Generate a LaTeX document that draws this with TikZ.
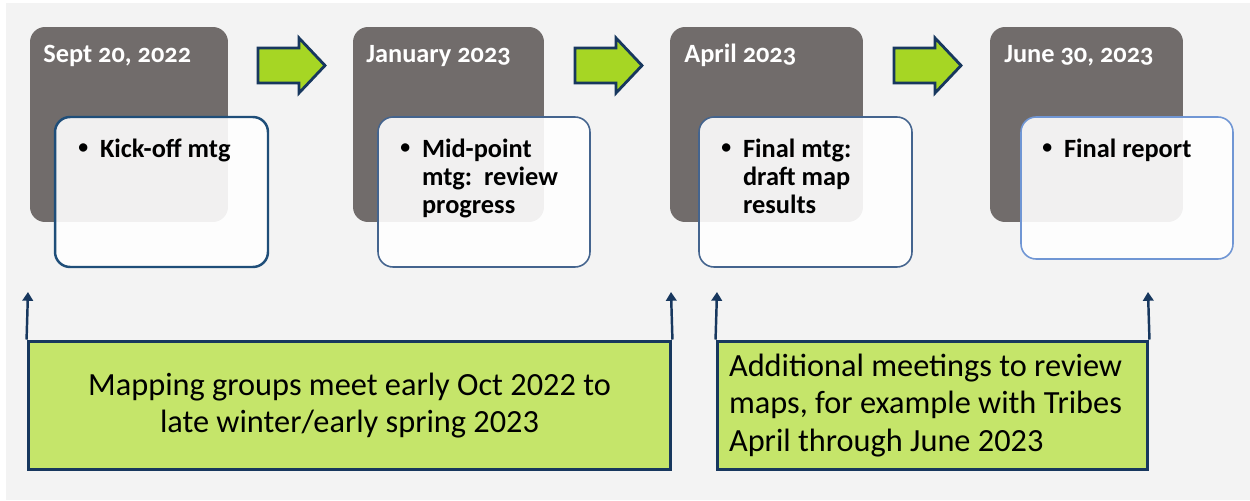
\documentclass[tikz,border=0pt]{standalone}
\usepackage{fontspec}
\setmainfont{Carlito}
\definecolor{bggray}{RGB}{243, 243, 243}
\definecolor{slate}{RGB}{113, 108, 107}
\definecolor{navy}{RGB}{23, 55, 94}
\definecolor{cardblue}{RGB}{31, 78, 121}
\definecolor{cardmid}{RGB}{68, 100, 142}
\definecolor{cardlight}{RGB}{112, 150, 212}
\definecolor{limegreen}{RGB}{166, 214, 36}
\definecolor{palegreen}{RGB}{197, 229, 106}
\usetikzlibrary{arrows.meta, positioning}
\newcommand{\smallbul}{\raisebox{0.12em}{\scalebox{0.75}{\textbullet}}\hspace{0.45em}}

\begin{document}
\begin{tikzpicture}[x=0.02cm, y=-0.02cm,
  datebox/.style={fill=slate, rounded corners=0.3cm, minimum height=3.9cm, inner sep=0pt},
  datetext/.style={text=white, font=\fontsize{15}{18}\selectfont\bfseries\addfontfeatures{Numbers=OldStyle}, anchor=base west, inner sep=0pt},
  card/.style={fill=white, fill opacity=0.9, rounded corners=0.3cm, minimum height=3cm, inner sep=0pt},
  itemtext/.style={font=\fontsize{15}{16}\selectfont\bfseries, anchor=base west, inner sep=0pt, align=left},
  fwdarrow/.style={draw=navy, line width=1.6pt, fill=limegreen, line join=miter},
  periodbox/.style={draw=navy, line width=1.7pt, fill=palegreen, minimum height=2.58cm, inner sep=0pt, font=\fontsize{18.4}{21.5}\selectfont},
  upline/.style={draw=navy, line width=1.4pt, -{Triangle[length=5pt, width=6pt]}}
]
  \useasboundingbox (0,0) rectangle (1250,500);
  % background
  \fill[white] (0,0) rectangle (1250,500);
  \fill[bggray] (6,3) rectangle (1250,500);

  % milestone boxes
  \node[datebox, minimum width=3.96cm] (d1) at (129,124.5) {};
  \node[datebox, minimum width=3.82cm] (d2) at (448.5,124.5) {};
  \node[datebox, minimum width=3.86cm] (d3) at (766.5,124.5) {};
  \node[datebox, minimum width=3.86cm] (d4) at (1086.5,124.5) {};

  \node[datetext] (t1) at (43,63) {Sept 20, 2022};
  \node[datetext] (t2) at (366,63) {January 2023};
  \node[datetext] (t3) at (684,63) {April 2023};
  \node[datetext] (t4) at (1004,63) {June 30, 2023};

  % activity cards
  \node[card, draw=cardblue, line width=1.4pt, draw opacity=1, minimum width=4.26cm] (c1) at (161.5,192) {};
  \node[card, draw=cardmid, line width=0.9pt, draw opacity=1, minimum width=4.24cm] (c2) at (484,192) {};
  \node[card, draw=cardmid, line width=0.9pt, draw opacity=1, minimum width=4.26cm] (c3) at (805.5,192) {};
  \node[card, draw=cardlight, line width=0.9pt, draw opacity=1, minimum width=4.24cm, minimum height=2.84cm] (c4) at (1127,188) {};

  \node[itemtext] (i1) at (78,157) {\smallbul\parbox[t]{3cm}{Kick-off mtg}};
  \node[itemtext] (i2) at (400,157) {\smallbul\parbox[t]{3cm}{Mid-point\\mtg:~~review\\progress}};
  \node[itemtext] (i3) at (721,157) {\smallbul\parbox[t]{3cm}{Final mtg:\\draft map\\results}};
  \node[itemtext] (i4) at (1042,157) {\smallbul\parbox[t]{3cm}{Final report}};

  % arrows between milestones
  \foreach \s in {258,575,894}
    \draw[fwdarrow] (\s,48) -- (\s+41,48) -- (\s+41,38) -- (\s+67,65.5) -- (\s+41,93) -- (\s+41,83) -- (\s,83) -- cycle;

  % meeting periods
  \node[periodbox, minimum width=12.86cm, align=center] (p1) at (349.5,405.5) {Mapping groups meet early Oct 2022 to\\late winter/early spring 2023};
  \node[periodbox, minimum width=8.62cm, text width=8.14cm, align=flush left] (p2) at (932.5,405.5) {Additional meetings to review\\maps, for example with Tribes\\April through June 2023};

  \coordinate (u1) at (28,292);
  \coordinate (u2) at (671,292);
  \coordinate (u3) at (717,292);
  \coordinate (u4) at (1148,292);
  \draw[upline] (p1.north west) -- (u1);
  \draw[upline] (p1.north east) -- (u2);
  \draw[upline] (p2.north west) -- (u3);
  \draw[upline] (p2.north east) -- (u4);
\end{tikzpicture}
\end{document}
